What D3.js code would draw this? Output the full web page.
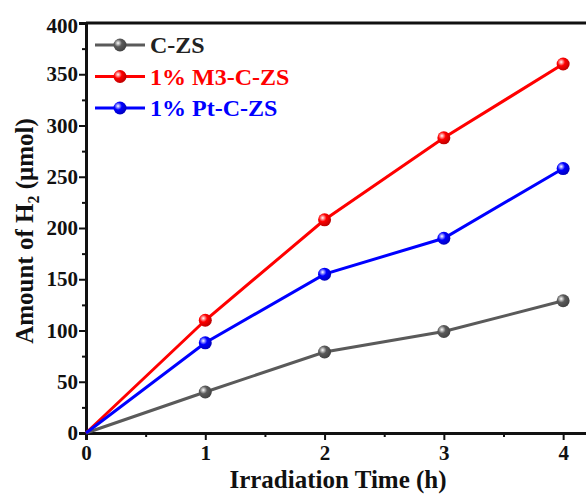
<!DOCTYPE html>
<head>
  <meta charset="utf-8">
  <script src="https://d3js.org/d3.v7.min.js"></script>
  <style>
    body { margin:0; background:white; }
    text { font-family: "Liberation Serif", "Times New Roman", serif; font-weight: bold; }
    .tick text { font-size: 21px; fill: #111; }
    .axis path, .axis line { stroke: #111; }
  </style>
</head>
<body>
  <div class="chart"></div>
  <script>
    const times = [0, 1, 2, 3, 4];
    const seriesNames = ['C-ZS', '1% M3-C-ZS', '1% Pt-C-ZS'];
    const czs = [0, 40, 79, 99, 129];
    const m3czs = [0, 110, 208, 288, 360];
    const ptczs = [0, 88, 155, 190, 258];
    const colors = ['#5a5a5a', '#ff0000', '#0000ff'];
    const yTicks = [0, 50, 100, 150, 200, 250, 300, 350, 400];
    const xTicks = [0, 1, 2, 3, 4];

    const series = [czs, m3czs, ptczs].map((vals, i) => ({
      name: seriesNames[i], color: colors[i],
      points: vals.map((v, j) => ({ t: times[j], v }))
    }));

    const W = 586, H = 494;
    const svg = d3.select('.chart').append('svg')
      .attr('width', W).attr('height', H);

    const x = d3.scaleLinear().domain([0, 4.2]).range([86, 587]);
    const y = d3.scaleLinear().domain([0, 400]).range([433, 23]);

    // gradients for the glossy markers
    const defs = svg.append('defs');
    series.forEach((s, i) => {
      const g = defs.append('radialGradient').attr('id', 'ball' + i)
        .attr('cx', '35%').attr('cy', '35%').attr('r', '65%');
      g.append('stop').attr('offset', '0%').attr('stop-color', '#fff');
      g.append('stop').attr('offset', '45%').attr('stop-color', s.color);
      g.append('stop').attr('offset', '100%').attr('stop-color', d3.color(s.color).darker(0.8));
    });

    // frame top
    svg.append('line').attr('x1', 86).attr('x2', 586).attr('y1', 23).attr('y2', 23)
      .attr('stroke', '#111').attr('stroke-width', 3);

    const yMinor = d3.range(25, 400, 50);
    const xMinor = [0.5, 1.5, 2.5, 3.5];

    const yAxis = svg.append('g').attr('class', 'axis').attr('transform', 'translate(86,0)')
      .call(d3.axisLeft(y).tickValues(yTicks).tickSize(7).tickPadding(1));
    yAxis.selectAll('.tick').filter(d => d === 400).select('text').attr('dy', '0.45em');
    svg.append('g').attr('class', 'axis').attr('transform', 'translate(86,0)')
      .call(d3.axisLeft(y).tickValues(yMinor).tickSize(4).tickFormat(''))
      .select('.domain').remove();

    svg.append('g').attr('class', 'axis').attr('transform', 'translate(0,433)')
      .call(d3.axisBottom(x).tickValues(xTicks).tickSize(7).tickPadding(5).tickFormat(d3.format('d')));
    svg.append('g').attr('class', 'axis').attr('transform', 'translate(0,433)')
      .call(d3.axisBottom(x).tickValues(xMinor).tickSize(4).tickFormat(''))
      .select('.domain').remove();

    svg.selectAll('.axis path.domain').attr('stroke-width', 3);
    svg.selectAll('.axis .tick line').attr('stroke-width', 2);

    // lines
    const line = d3.line().x(d => x(d.t)).y(d => y(d.v));
    series.forEach((s, i) => {
      svg.append('path').datum(s.points)
        .attr('d', line).attr('fill', 'none')
        .attr('stroke', s.color).attr('stroke-width', 3);
    });
    series.forEach((s, i) => {
      svg.selectAll('.m' + i).data(s.points.slice(1)).enter().append('circle')
        .attr('cx', d => x(d.t)).attr('cy', d => y(d.v)).attr('r', 6.5)
        .attr('fill', `url(#ball${i})`);
    });

    // legend
    const leg = svg.append('g');
    series.forEach((s, i) => {
      const ly = 45 + i * 31.5;
      leg.append('line').attr('x1', 95).attr('x2', 145).attr('y1', ly).attr('y2', ly)
        .attr('stroke', s.color).attr('stroke-width', 3);
      leg.append('circle').attr('cx', 120).attr('cy', ly).attr('r', 6.5)
        .attr('fill', `url(#ball${i})`);
      leg.append('text').attr('x', 150).attr('y', ly).attr('dy', '0.35em')
        .attr('font-size', 24).attr('fill', i === 0 ? '#222' : s.color).text(s.name);
    });

    // axis titles
    svg.append('text').attr('x', 338).attr('y', 488).attr('text-anchor', 'middle')
      .attr('font-size', 25).attr('fill', '#111').text('Irradiation Time (h)');
    const yt = svg.append('text').attr('transform', 'translate(33,231) rotate(-90)')
      .attr('text-anchor', 'middle').attr('font-size', 25).attr('fill', '#111');
    yt.append('tspan').text('Amount of H');
    yt.append('tspan').attr('font-size', 16).attr('dy', 6).text('2');
    yt.append('tspan').attr('dy', -6).text(' (μmol)');
  </script>
</body>
